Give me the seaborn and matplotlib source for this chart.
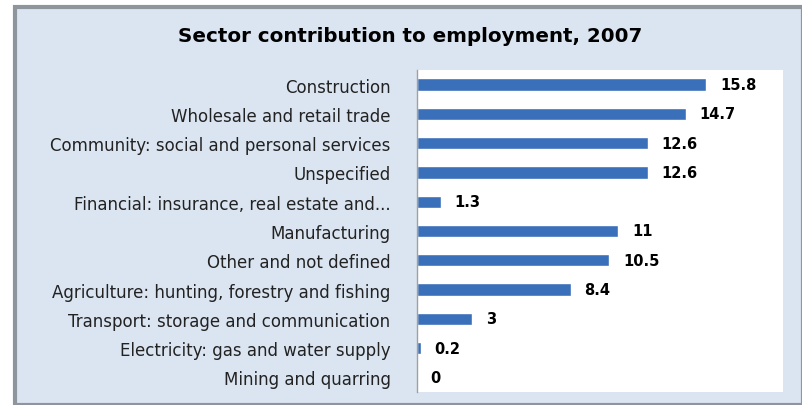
import matplotlib.pyplot as plt
import seaborn as sns
from matplotlib.patches import Rectangle

sectors = [
    "Construction",
    "Wholesale and retail trade",
    "Community: social and personal services",
    "Unspecified",
    "Financial: insurance, real estate and...",
    "Manufacturing",
    "Other and not defined",
    "Agriculture: hunting, forestry and fishing",
    "Transport: storage and communication",
    "Electricity: gas and water supply",
    "Mining and quarring",
]
shares = [15.8, 14.7, 12.6, 12.6, 1.3, 11, 10.5, 8.4, 3, 0.2, 0]
title = "Sector contribution to employment, 2007"

sns.set_style("white")
plt.rcParams['font.family'] = ['DejaVu Sans']

fig = plt.figure(figsize=(8.03, 4.06), dpi=100)
fig.patch.set_facecolor("white")

# outer panel with grey shadow edge
W, H = 803, 406
fig.patches.append(Rectangle((15 / W, 0), (W - 15) / W, (H - 8) / H,
                             transform=fig.transFigure, facecolor="#dbe5f1",
                             edgecolor="#8f959c", linewidth=3, zorder=-10))

ax = fig.add_axes([417 / W, 13 / H, (783 - 417) / W, (335 - 13) / H])
ax.set_zorder(1)
ax.set_facecolor("white")

sns.barplot(x=shares, y=sectors, orient="h", color="#3a6fb9", saturation=1,
            width=0.42, ax=ax)

for i, v in enumerate(shares):
    ax.text(v + 0.75, i, f"{v:g}", va="center", ha="left",
            fontsize=10.5, fontweight="bold", color="black")

ax.set_xlim(0, 20)
ax.set_xticks([])
ax.set_xlabel("")
ax.set_ylabel("")
ax.tick_params(axis="y", length=0, pad=19, labelsize=12, labelcolor="#222222")
for side in ["top", "right", "bottom"]:
    ax.spines[side].set_visible(False)
ax.spines["left"].set_color("#a0a0a0")
ax.spines["left"].set_linewidth(1)

fig.text(410 / W, 1 - 37 / H, title, ha="center", va="center",
         fontsize=14.3, fontweight="bold", color="black")

fig.savefig("out.png", dpi=100)
